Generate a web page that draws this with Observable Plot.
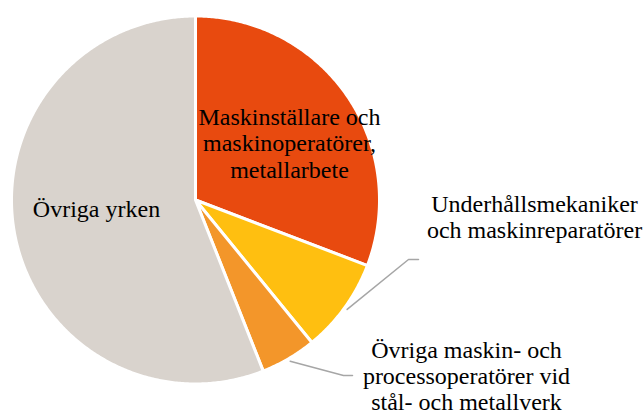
<!DOCTYPE html>
<html>
<head>
<meta charset="utf-8">
<script src="https://cdn.jsdelivr.net/npm/d3@7"></script>
<script src="https://cdn.jsdelivr.net/npm/@observablehq/plot@0.6"></script>
<style>
  html, body { margin: 0; padding: 0; background: #fff; }
  #chart svg { display: block; }
  #chart svg text { font-family: "Liberation Serif", "Times New Roman", serif; }
</style>
</head>
<body>
<div id="chart"></div>
<script>
// ---- data ----
const categories = [
  "Maskinställare och maskinoperatörer, metallarbete",
  "Underhållsmekaniker och maskinreparatörer",
  "Övriga maskin- och processoperatörer vid stål- och metallverk",
  "Övriga yrken"
];
const shares = [30.8, 8.3, 4.9, 56.0];
const labelLines = [
  ["Maskinställare och", "maskinoperatörer,", "metallarbete"],
  ["Underhållsmekaniker", "och maskinreparatörer"],
  ["Övriga maskin- och", "processoperatörer vid", "stål- och metallverk"],
  ["Övriga yrken"]
];
const colors = ["#E84A0F", "#FFBF10", "#F3962A", "#D9D3CD"];

// ---- layout ----
const W = 643, H = 410;
const cx = 195, cy = 199.5, R = 184;
const labelPos = [[289, 142.5], [534, 216], [466, 375], [96, 208]];
const elbows = [null, [[408, 259], [418, 259]], [[343, 375], [352, 375]], null];

const pt = (a, r) => [cx + r * Math.sin(a), cy - r * Math.cos(a)];

const arcs = d3.pie().sort(null).value(d => d)(shares);
const poly = [];
arcs.forEach((a, i) => {
  poly.push({cat: categories[i], x: cx, y: cy});
  const n = Math.max(8, Math.ceil((a.endAngle - a.startAngle) / (Math.PI / 360)));
  for (let k = 0; k <= n; k++) {
    const t = a.startAngle + (a.endAngle - a.startAngle) * k / n;
    const [x, y] = pt(t, R);
    poly.push({cat: categories[i], x, y});
  }
});

const leaders = [];
arcs.forEach((a, i) => {
  if (!elbows[i]) return;
  const mid = (a.startAngle + a.endAngle) / 2;
  const [x0, y0] = pt(mid, R + 3);
  leaders.push({cat: categories[i], x: x0, y: y0});
  elbows[i].forEach(([x, y]) => leaders.push({cat: categories[i], x, y}));
});

const labels = categories.map((c, i) => ({
  cat: c, text: labelLines[i].join("\n"), x: labelPos[i][0], y: labelPos[i][1]
}));

const chart = Plot.plot({
  width: W, height: H, margin: 0,
  x: {domain: [0, W], range: [0, W], axis: null},
  y: {domain: [0, H], range: [0, H], axis: null},
  color: {domain: categories, range: colors},
  marks: [
    Plot.line(poly, {x: "x", y: "y", z: "cat", fill: "cat", stroke: "white", strokeWidth: 3, curve: "linear-closed", strokeLinejoin: "round"}),
    Plot.line(leaders, {x: "x", y: "y", z: "cat", stroke: "#A6A6A6", strokeWidth: 1.5}),
    Plot.text(labels, {x: "x", y: "y", text: "text", fontSize: 24, lineHeight: 1.1, fontFamily: "'Liberation Serif', serif", fill: "#000", textAnchor: "middle", lineAnchor: "middle"})
  ]
});
document.getElementById("chart").appendChild(chart);
</script>
</body>
</html>
